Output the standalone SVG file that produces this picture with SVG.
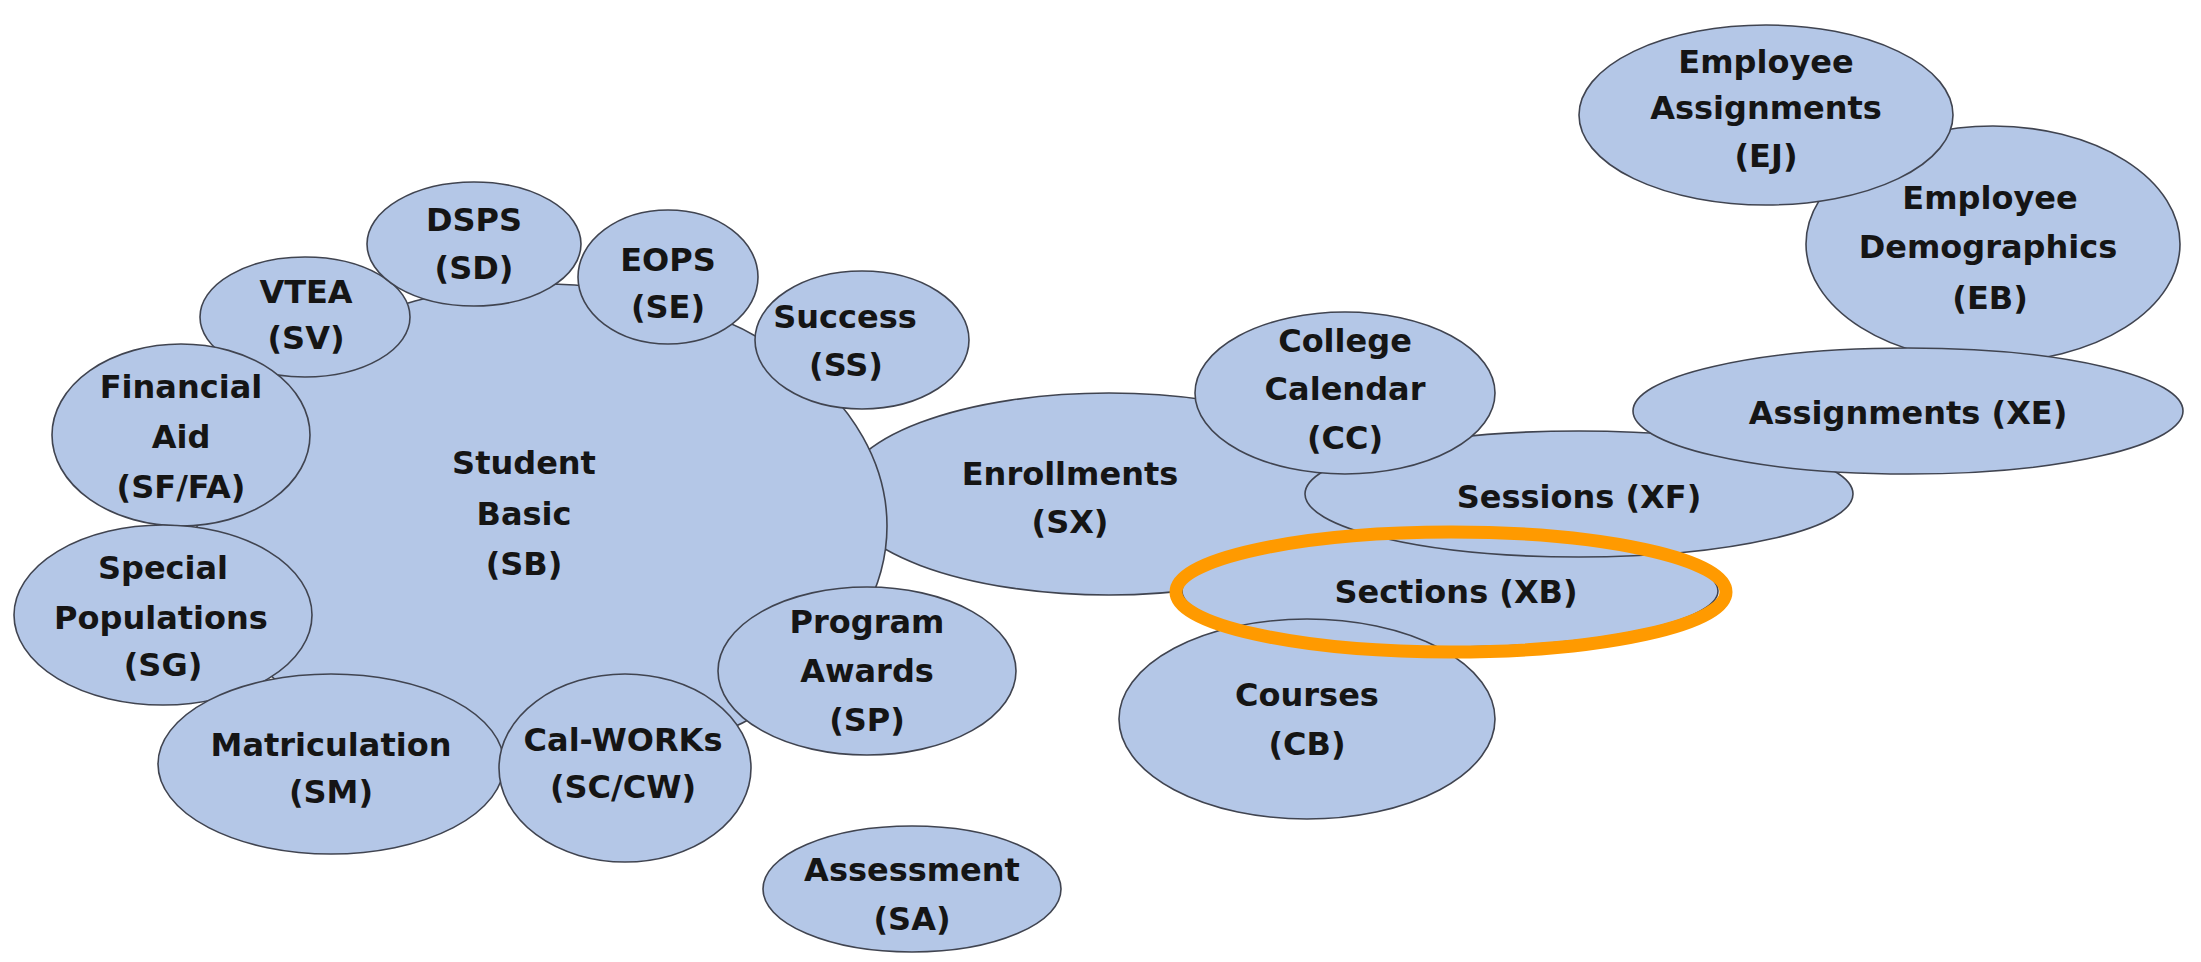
<svg xmlns="http://www.w3.org/2000/svg" width="2201" height="962" viewBox="0 0 2201 962">
<style>
.n{fill:#b4c7e7;stroke:#404450;stroke-width:1.6}
text{font-family:"DejaVu Sans","Liberation Sans",sans-serif;font-weight:bold;font-size:32px;fill:#151515;text-anchor:middle}
.hl{fill:none;stroke:#ff9a00;stroke-width:13}
</style>
<rect width="2201" height="962" fill="#ffffff"/>
<g id="SX"><ellipse class="n" cx="1109" cy="494" rx="267" ry="101"/><text x="1070" y="485">Enrollments</text><text x="1070" y="533">(SX)</text></g>
<g id="SB"><ellipse class="n" cx="542" cy="526" rx="345" ry="242"/><text x="524" y="474">Student</text><text x="524" y="525">Basic</text><text x="524" y="575">(SB)</text></g>
<g id="SV"><ellipse class="n" cx="305" cy="317" rx="105" ry="60"/><text x="306" y="303">VTEA</text><text x="306" y="349">(SV)</text></g>
<g id="SD"><ellipse class="n" cx="474" cy="244" rx="107" ry="62"/><text x="474" y="231">DSPS</text><text x="474" y="279">(SD)</text></g>
<g id="SE"><ellipse class="n" cx="668" cy="277" rx="90" ry="67"/><text x="668" y="271">EOPS</text><text x="668" y="318">(SE)</text></g>
<g id="SS"><ellipse class="n" cx="862" cy="340" rx="107" ry="69"/><text x="845" y="328">Success</text><text x="846" y="376">(SS)</text></g>
<g id="SF"><ellipse class="n" cx="181" cy="435" rx="129" ry="91"/><text x="181" y="398">Financial</text><text x="181" y="448">Aid</text><text x="181" y="498">(SF/FA)</text></g>
<g id="SG"><ellipse class="n" cx="163" cy="615" rx="149" ry="90"/><text x="163" y="579">Special</text><text x="161" y="629">Populations</text><text x="163" y="676">(SG)</text></g>
<g id="SM"><ellipse class="n" cx="331" cy="764" rx="173" ry="90"/><text x="331" y="756">Matriculation</text><text x="331" y="803">(SM)</text></g>
<g id="SC"><ellipse class="n" cx="625" cy="768" rx="126" ry="94"/><text x="623" y="751">Cal-WORKs</text><text x="623" y="798">(SC/CW)</text></g>
<g id="SP"><ellipse class="n" cx="867" cy="671" rx="149" ry="84"/><text x="867" y="633">Program</text><text x="867" y="682">Awards</text><text x="867" y="731">(SP)</text></g>
<g id="SA"><ellipse class="n" cx="912" cy="889" rx="149" ry="63"/><text x="912" y="881">Assessment</text><text x="912" y="930">(SA)</text></g>
<g id="XB"><ellipse class="n" cx="1450" cy="591" rx="268" ry="56"/><text x="1456" y="603">Sections (XB)</text></g>
<g id="XF"><ellipse class="n" cx="1579" cy="494" rx="274" ry="63"/><text x="1579" y="508">Sessions (XF)</text></g>
<g id="CC"><ellipse class="n" cx="1345" cy="393" rx="150" ry="81"/><text x="1345" y="352">College</text><text x="1345" y="400">Calendar</text><text x="1345" y="449">(CC)</text></g>
<g id="CB"><ellipse class="n" cx="1307" cy="719" rx="188" ry="100"/><text x="1307" y="706">Courses</text><text x="1307" y="755">(CB)</text></g>
<g id="EB"><ellipse class="n" cx="1993" cy="244" rx="187" ry="118"/><text x="1990" y="209">Employee</text><text x="1988" y="258">Demographics</text><text x="1990" y="309">(EB)</text></g>
<g id="EJ"><ellipse class="n" cx="1766" cy="115" rx="187" ry="90"/><text x="1766" y="73">Employee</text><text x="1766" y="119">Assignments</text><text x="1766" y="167">(EJ)</text></g>
<g id="XE"><ellipse class="n" cx="1908" cy="411" rx="275" ry="63"/><text x="1908" y="424">Assignments (XE)</text></g>
<g id="connectors"></g>
<g id="highlight"><ellipse class="hl" cx="1451" cy="592" rx="275" ry="60"/></g>
</svg>
